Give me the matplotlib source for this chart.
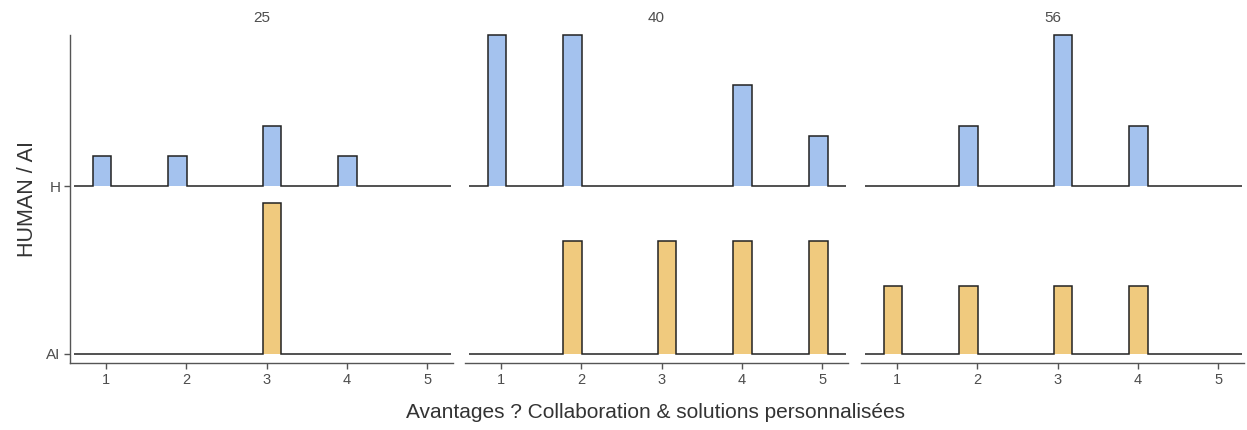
import numpy as np
import matplotlib
matplotlib.use("Agg")
import matplotlib.pyplot as plt

plt.rcParams['font.family'] = ['Liberation Sans', 'DejaVu Sans']

# Data: counts of answers (Likert 1..5) per age group and respondent type
likert = [1, 2, 3, 4, 5]
ages = ["25", "40", "56"]
categories = ["AI", "H"]
counts_H = {"25": [1, 1, 2, 1, 0], "40": [3, 3, 0, 2, 1], "56": [0, 2, 5, 2, 0]}
counts_AI = {"25": [0, 0, 1, 0, 0], "40": [0, 1, 1, 1, 1], "56": [1, 1, 1, 1, 0]}

colors = {"H": "#a4c2ee", "AI": "#f0ca7e"}
edge_col = "#222222"
axis_col = "#555555"
text_col = "#4d4d4d"

# histogram bins (18-bin style binline, padded with one empty bin each side)
bw = 4 / 17
edges = 0.595 + bw * np.arange(21)
ridge_scale = 0.9

W, H = 1247, 430
fig = plt.figure(figsize=(W / 100, H / 100), dpi=100)
lefts = [70, 465, 861]
pw = 383
top, bottom = 35, 363

for i, age in enumerate(ages):
    ax = fig.add_axes([lefts[i] / W, (H - bottom) / H, pw / W, (bottom - top) / H])
    dens = {}
    for cat, cdict in (("H", counts_H), ("AI", counts_AI)):
        c = np.array(cdict[age], dtype=float)
        hist, _ = np.histogram(likert, bins=edges, weights=c)
        dens[cat] = hist / c.sum()
    mx = max(d.max() for d in dens.values())
    for j, cat in enumerate(categories):
        h = j + dens[cat] / mx * ridge_scale
        ax.stairs(h, edges, baseline=j, fill=True, color=colors[cat], lw=0, zorder=2 + (1 - j))
        ax.stairs(h, edges, baseline=j, fill=False, color=edge_col, lw=1.1, zorder=3 + (1 - j), clip_on=False)
    ax.set_xlim(0.55, 5.32)
    ax.set_ylim(-0.054, 1.9)
    ax.set_xticks(likert)
    ax.set_xticklabels([str(v) for v in likert])
    for s in ["top", "right"]:
        ax.spines[s].set_visible(False)
    ax.spines["bottom"].set_color(axis_col)
    ax.spines["bottom"].set_linewidth(1.0)
    ax.tick_params(axis="x", colors=axis_col, labelcolor=text_col, length=4, width=1.0, labelsize=10.5, pad=3)
    if i == 0:
        ax.set_yticks([0, 1])
        ax.set_yticklabels(categories)
        ax.spines["left"].set_color(axis_col)
        ax.spines["left"].set_linewidth(1.0)
        ax.tick_params(axis="y", colors=axis_col, labelcolor=text_col, length=4, width=1.0, labelsize=11, pad=3)
        ax.set_ylabel("HUMAN / AI", fontsize=15.5, color="#333333", labelpad=6)
    else:
        ax.spines["left"].set_visible(False)
        ax.set_yticks([])
    ax.set_facecolor("none")
    fig.text((lefts[i] + pw / 2) / W, 1 - 18 / H, age, ha="center", va="center", fontsize=11, color=text_col)

fig.text(655 / W, 1 - 412 / H, "Avantages ? Collaboration & solutions personnalisées",
         ha="center", va="center", fontsize=15, color="#333333")

fig.savefig("out.png", dpi=100)
